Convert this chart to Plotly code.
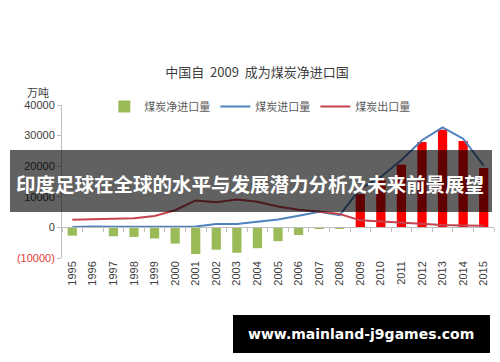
import plotly.graph_objects as go

years = list(range(1995, 2016))
net_imports = [-2700, None, -2900, -3100, -3600, -5300, -8700, -7300, -8300, -6800,
               -4500, -2500, -200, -500, 10900, 15400, 20500, 27900, 31900, 28200, 19400]
imports = [150, 300, 200, 150, 170, 210, 270, 1100, 1100, 1900, 2600, 3800, 5100,
           4000, 12600, 16500, 22000, 28500, 32700, 29000, 20200]
exports = [2500, 2700, 2800, 3000, 3700, 5600, 8800, 8200, 9100, 8400, 6800, 5800,
           5200, 4400, 2300, 1900, 1400, 1000, 750, 600, 550]
ytick_vals = [-10000, 0, 10000, 20000, 30000, 40000]
ytick_text = ["<span style='color:#E03C3C'>(10000)</span>", "0", "10000", "20000", "30000", "40000"]

title_text = "中国自  2009  成为煤炭净进口国"
series_names = ["煤炭净进口量", "煤炭进口量", "煤炭出口量"]
unit_text = "万吨"
banner_text = "印度足球在全球的水平与发展潜力分析及未来前景展望"
watermark_text = "www.mainland-j9games.com"

GREEN = "#9BBB59"
RED = "#FF0000"
BLUE = "#4F81BD"
DARKRED = "#C4434F"
FONT = "Liberation Sans, Noto Sans CJK SC, sans-serif"
CJK = "Noto Sans CJK SC, sans-serif"

bar_colors = [GREEN if (v is not None and v < 0) else RED for v in net_imports]

fig = go.Figure()
fig.add_trace(go.Bar(x=years, y=net_imports, name=series_names[0],
                     marker=dict(color=bar_colors, line=dict(width=0)), width=0.45))
fig.add_trace(go.Scatter(x=years, y=imports, name=series_names[1], mode="lines",
                         line=dict(color=BLUE, width=2)))
fig.add_trace(go.Scatter(x=years, y=exports, name=series_names[2], mode="lines",
                         line=dict(color=DARKRED, width=2), xaxis="x2"))

fig.update_layout(
    width=500, height=362,
    margin=dict(l=62, r=6, t=105, b=104),
    paper_bgcolor="white", plot_bgcolor="white",
    font=dict(family=FONT, size=11, color="#404040"),
    title=dict(text=title_text, x=0.514, xanchor="center", y=1 - 72 / 362, yanchor="middle",
               font=dict(family=CJK, size=13, color="#404040")),
    showlegend=True,
    legend=dict(orientation="h", x=0.098, y=1.085, xanchor="left", yanchor="top",
                bgcolor="rgba(0,0,0,0)", font=dict(family=CJK, size=11, color="#595959"),
                itemwidth=30, tracegroupgap=0),
    barmode="overlay",
    xaxis=dict(range=[1994.5, 2015.5], tickmode="array", tickvals=years,
               ticktext=[str(y) for y in years], tickangle=-90, showline=False,
               showgrid=False, zeroline=False, ticks="", tickfont=dict(size=11, color="#404040")),
    xaxis2=dict(range=[1994.5, 2015.5], overlaying="x", anchor="free", position=0.2,
                showline=True, linecolor="#BFBFBF", linewidth=1, showgrid=False,
                zeroline=False, ticks="outside", ticklen=4, tickcolor="#BFBFBF",
                tick0=1994.5, dtick=1, showticklabels=False),
    yaxis=dict(range=[-10000, 40000], tickmode="array", tickvals=ytick_vals,
               ticktext=ytick_text, showline=True, linecolor="#BFBFBF", linewidth=1,
               ticks="outside", ticklen=4, tickcolor="#BFBFBF", showgrid=False,
               zeroline=False, tickfont=dict(size=11, color="#404040")),
)

fig.add_annotation(text=unit_text, xref="paper", yref="paper", x=(38 - 62) / 432,
                   y=(258 - 92) / 153, xanchor="center", yanchor="middle", showarrow=False,
                   font=dict(family=CJK, size=11, color="#404040"))

# banner overlay
fig.add_shape(type="rect", xref="paper", yref="paper",
              x0=(10 - 62) / 432, x1=(492 - 62) / 432,
              y0=(258 - 212) / 153, y1=(258 - 150) / 153,
              fillcolor="rgba(0,0,0,0.62)", line=dict(width=0), layer="above")
fig.add_annotation(text="<b>" + banner_text + "</b>", xref="paper", yref="paper",
                   x=(250 - 62) / 432, y=(258 - 183) / 153, xanchor="center", yanchor="middle",
                   showarrow=False, font=dict(family=CJK, size=19.5, color="white"))

# watermark box
fig.add_shape(type="rect", xref="paper", yref="paper",
              x0=(233 - 62) / 432, x1=(490 - 62) / 432,
              y0=(258 - 353) / 153, y1=(258 - 315) / 153,
              fillcolor="black", line=dict(width=0), layer="above")
fig.add_annotation(text="<b>" + watermark_text + "</b>", xref="paper", yref="paper",
                   x=(361 - 62) / 432, y=(258 - 334) / 153, xanchor="center", yanchor="middle",
                   showarrow=False, font=dict(family="DejaVu Sans, sans-serif", size=14, color="white"))

fig.write_html("out.html")
